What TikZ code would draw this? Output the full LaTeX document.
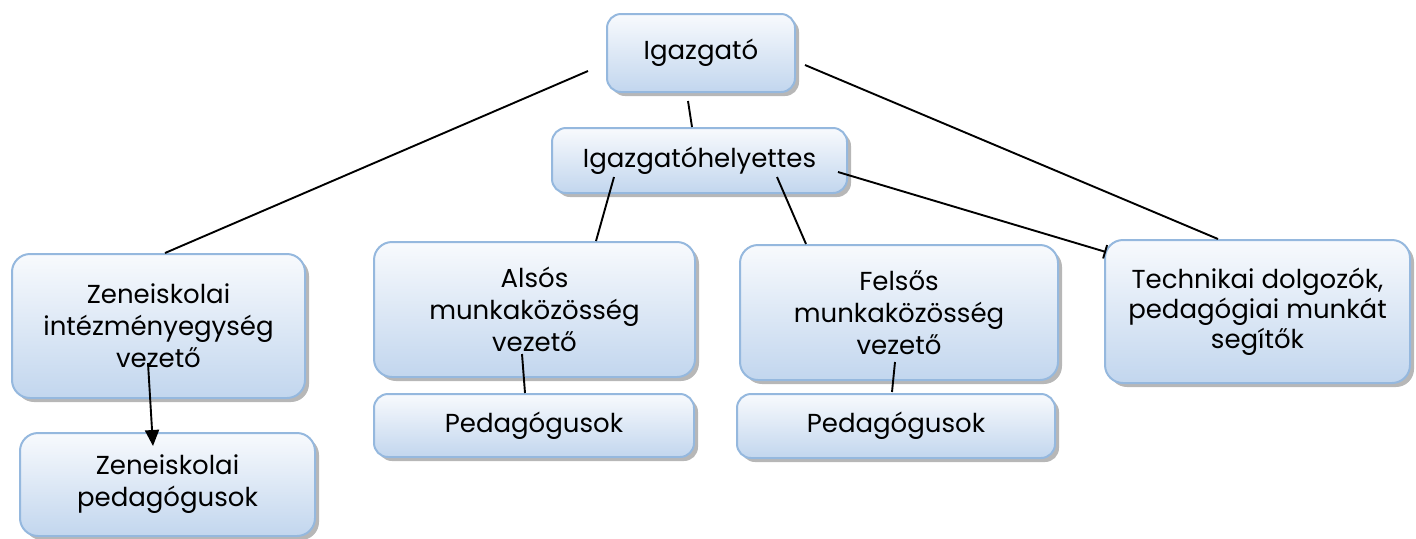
\documentclass[tikz,border=0pt]{standalone}
\usepackage{fontspec}
\setmainfont{Poppins}
\usetikzlibrary{shadows,calc,arrows.meta}
\definecolor{bord}{HTML}{95B8DE}
\definecolor{fillb}{HTML}{C2D6EE}
\definecolor{fillt}{HTML}{F8FAFD}
\begin{document}
\begin{tikzpicture}[x=0.5pt,y=-0.5pt,
  box/.style={draw=bord, line width=1pt, rounded corners=9pt, top color=fillt, bottom color=fillb,
    align=center, font=\fontsize{13}{16}\selectfont, inner sep=0pt,
    drop shadow={shadow xshift=2pt, shadow yshift=-2pt, fill=black!40, opacity=0.7}},
  conn/.style={line width=0.95pt, black}]
\useasboundingbox (0,0) rectangle (1416,538);
\node[box, minimum width=94pt, minimum height=39pt, rounded corners=7pt] (igaz) at (701,53) {Igazgató};
\node[box, minimum width=147.5pt, minimum height=32.5pt, rounded corners=7pt] (hely) at (699.5,160.5) {Igazgatóhelyettes};
\node[box, minimum width=146.5pt, minimum height=72pt] (zene) at (158.5,326) {Zeneiskolai\\intézményegység\\vezető};
\node[box, minimum width=147.5pt, minimum height=51.5pt] (zeneped) at (167.5,484.5) {Zeneiskolai\\pedagógusok};
\node[box, minimum width=160.5pt, minimum height=67.5pt] (also) at (534.5,309.5) {Alsós\\munkaközösség\\vezető};
\node[box, minimum width=160pt, minimum height=31.5pt, rounded corners=7pt] (ped1) at (534,425.5) {Pedagógusok};
\node[box, minimum width=159pt, minimum height=67.5pt] (felso) at (899,312.5) {Felsős\\munkaközösség\\vezető};
\node[box, minimum width=159pt, minimum height=32pt, rounded corners=7pt] (ped2) at (896,426) {Pedagógusok};
\node[box, minimum width=152.5pt, minimum height=71.5pt, font=\fontsize{13}{15}\selectfont] (tech) at (1257.5,311.5) {Technikai dolgozók,\\pedagógiai munkát\\segítők};
\draw[conn] ($(igaz.west)+(-18,18)$) -- ($(zene.north)+(6.5,0)$);
\draw[conn] ($(igaz.east)+(9,12)$) -- ($(tech.north)+(-39.5,0)$);
\draw[conn] ($(igaz.south)+(-13,8)$) -- ($(hely.north)+(-7.5,0)$);
\draw[conn] ($(hely.center)+(-85.5,16.5)$) -- ($(also.north)+(61.5,0)$);
\draw[conn] ($(hely.center)+(77.5,16.5)$) -- ($(felso.north)+(-93,0)$);
\draw[conn, -{Bar[width=7pt]}] ($(hely.east)+(-10,11.5)$) -- ($(tech.west)+(2,-59.5)$);
\draw[conn, -{Triangle[length=8pt,width=7pt]}] ($(zene.center)+(-10.5,37)$) -- ($(zeneped.north)+(-14.5,14)$);
\draw[conn] ($(also.center)+(-12.5,44.5)$) -- ($(ped1.north)+(-9,0)$);
\draw[conn] ($(felso.center)+(-4,49.5)$) -- ($(ped2.north)+(-4,-1)$);
\end{tikzpicture}
\end{document}
